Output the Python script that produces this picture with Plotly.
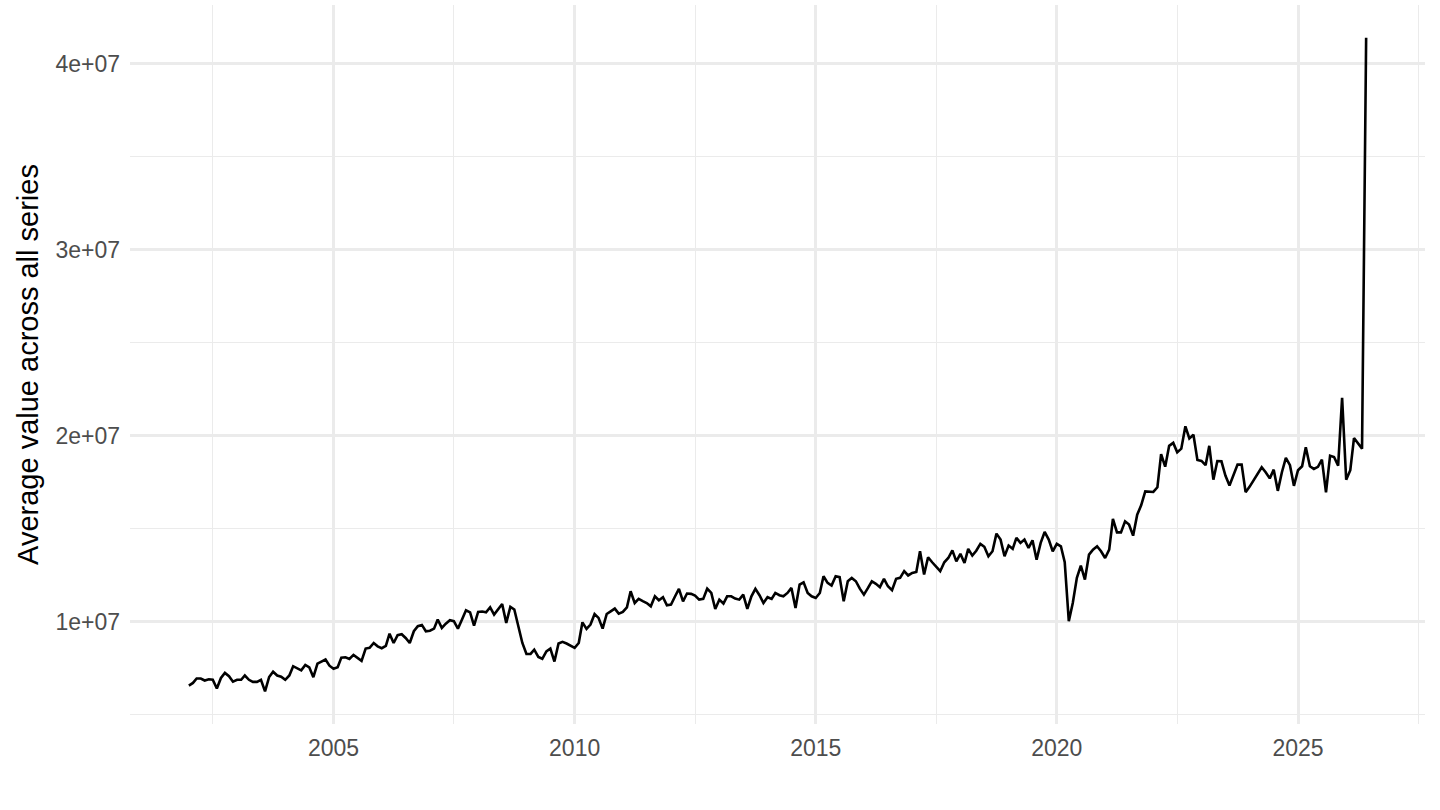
#!/usr/bin/env python3
import pandas as pd
import plotly.graph_objects as go

# monthly average across all series, in millions, Jan 2002 .. Jun 2026
first_month = "2002-01-01"
avg_millions = [
    # 2002
    6.56, 6.70, 6.94, 6.94, 6.83, 6.90, 6.87, 6.40, 6.97, 7.24, 7.06, 6.77,
    # 2003
    6.87, 6.87, 7.10, 6.87, 6.76, 6.76, 6.87, 6.25, 7.02, 7.30, 7.10, 7.04,
    # 2004
    6.87, 7.10, 7.60, 7.47, 7.38, 7.67, 7.54, 7.01, 7.74, 7.85, 7.96, 7.63,
    # 2005
    7.46, 7.54, 8.06, 8.08, 7.99, 8.21, 8.06, 7.89, 8.55, 8.59, 8.85, 8.67,
    # 2006
    8.57, 8.69, 9.35, 8.85, 9.27, 9.32, 9.12, 8.85, 9.48, 9.75, 9.82, 9.48,
    # 2007
    9.51, 9.62, 10.11, 9.66, 9.89, 10.07, 10.02, 9.62, 10.11, 10.61, 10.50, 9.78,
    # 2008
    10.52, 10.54, 10.50, 10.77, 10.38, 10.70, 10.95, 9.93, 10.79, 10.65, 9.66, 8.85,
    # 2009
    8.26, 8.26, 8.49, 8.10, 8.00, 8.40, 8.55, 7.85, 8.82, 8.91, 8.82, 8.71,
    # 2010
    8.59, 8.85, 9.96, 9.61, 9.84, 10.41, 10.20, 9.62, 10.41, 10.55, 10.70, 10.43,
    # 2011
    10.52, 10.77, 11.63, 11.00, 11.22, 11.10, 11.00, 10.82, 11.36, 11.15, 11.31, 10.88,
    # 2012
    10.91, 11.36, 11.76, 11.09, 11.51, 11.49, 11.40, 11.18, 11.22, 11.77, 11.54, 10.68,
    # 2013
    11.18, 10.97, 11.36, 11.36, 11.24, 11.18, 11.45, 10.68, 11.36, 11.76, 11.42, 11.00,
    # 2014
    11.31, 11.22, 11.54, 11.42, 11.36, 11.54, 11.81, 10.73, 11.99, 12.11, 11.54, 11.36,
    # 2015
    11.27, 11.54, 12.44, 12.08, 11.94, 12.44, 12.39, 11.09, 12.17, 12.35, 12.17, 11.77,
    # 2016
    11.45, 11.81, 12.17, 12.03, 11.85, 12.30, 11.90, 11.69, 12.30, 12.35, 12.71, 12.48,
    # 2017
    12.62, 12.67, 13.78, 12.53, 13.46, 13.19, 12.94, 12.71, 13.19, 13.42, 13.83, 13.24,
    # 2018
    13.64, 13.15, 13.91, 13.55, 13.81, 14.18, 14.02, 13.51, 13.78, 14.73, 14.41, 13.51,
    # 2019
    14.09, 13.91, 14.50, 14.23, 14.41, 13.96, 14.37, 13.33, 14.23, 14.82, 14.41, 13.78,
    # 2020
    14.18, 14.05, 13.20, 10.02, 11.00, 12.35, 13.01, 12.26, 13.60, 13.87, 14.05, 13.78,
    # 2021
    13.42, 13.87, 15.52, 14.80, 14.80, 15.39, 15.22, 14.62, 15.75, 16.25, 17.00, 16.97,
    # 2022
    16.97, 17.22, 19.00, 18.33, 19.45, 19.61, 19.10, 19.30, 20.50, 19.85, 20.05, 18.69,
    # 2023
    18.64, 18.41, 19.45, 17.63, 18.63, 18.62, 17.85, 17.32, 17.88, 18.44, 18.44, 16.96,
    # 2024
    17.26, 17.60, 17.95, 18.30, 18.03, 17.70, 18.17, 17.03, 18.03, 18.80, 18.41, 17.30,
    # 2025
    18.14, 18.35, 19.37, 18.35, 18.21, 18.32, 18.71, 16.95, 18.92, 18.85, 18.39, 22.03,
    # 2026
    17.63, 18.14, 19.87, 19.55, 19.30, 41.40,
]

y_tickvals = [1e7, 2e7, 3e7, 4e7]
y_ticktext = ["1e+07", "2e+07", "3e+07", "4e+07"]
y_minorvals = [5e6, 1.5e7, 2.5e7, 3.5e7]
y_title = "Average value across all series"

dates = pd.date_range(first_month, periods=len(avg_millions), freq="MS")
values = [v * 1e6 for v in avg_millions]

# ggplot-style 5% expansion on both axes
x_span = dates.max() - dates.min()
x_range = [dates.min() - 0.05 * x_span, dates.max() + 0.05 * x_span]
y_span = max(values) - min(values)
y_range = [min(values) - 0.05 * y_span, max(values) + 0.05 * y_span]

grid = "#EBEBEB"
font = "Liberation Sans, Arial, sans-serif"

fig = go.Figure(go.Scatter(
    x=dates,
    y=values,
    mode="lines",
    line=dict(color="black", width=2.6),
    showlegend=False,
))

fig.update_layout(
    width=1440,
    height=810,
    plot_bgcolor="white",
    paper_bgcolor="white",
    margin=dict(l=130, r=15, t=5, b=86),
    font=dict(family=font),
)

fig.update_xaxes(
    type="date",
    range=x_range,
    automargin=False,
    tick0="2000-01-01",
    dtick="M60",
    tickformat="%Y",
    showgrid=True, gridcolor=grid, gridwidth=2.6,
    minor=dict(tick0="2000-01-01", dtick="M30", showgrid=True, gridcolor=grid, gridwidth=1.3),
    zeroline=False, showline=False, ticks="",
    tickfont=dict(size=23, color="#4D4D4D"),
    ticklabelstandoff=8,
)

fig.update_yaxes(
    range=y_range,
    automargin=False,
    tickmode="array",
    tickvals=y_tickvals,
    ticktext=y_ticktext,
    showgrid=True, gridcolor=grid, gridwidth=2.6,
    minor=dict(tickmode="array", tickvals=y_minorvals, showgrid=True, gridcolor=grid, gridwidth=1.3),
    zeroline=False, showline=False, ticks="",
    tickfont=dict(size=23, color="#4D4D4D"),
    ticklabelstandoff=9,
    title=dict(text=y_title, font=dict(size=29, color="black"), standoff=8),
)

# drop the default 8px page margin so the plot sits at the window corner
fig.write_html(
    "out.html",
    config={"displayModeBar": False},
    post_script="document.body.style.margin='0';",
)
